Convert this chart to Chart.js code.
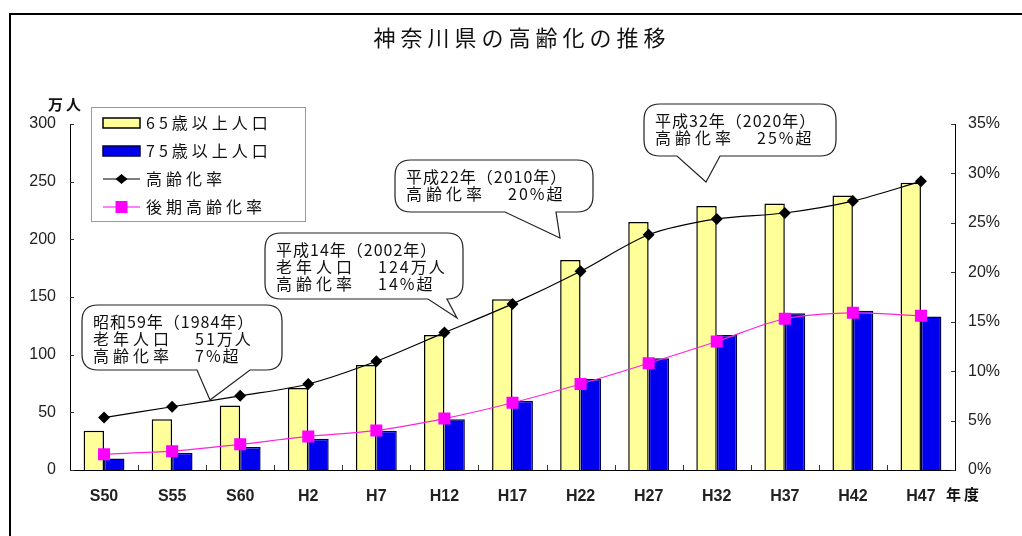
<!DOCTYPE html>
<html lang="ja">
<head>
<meta charset="utf-8">
<title>神奈川県の高齢化の推移</title>
<script src="https://cdn.jsdelivr.net/npm/chart.js@4/dist/chart.umd.min.js"></script>
<style>
  html, body { margin: 0; padding: 0; background: #fff; }
  canvas { display: block; }
</style>
</head>
<body>
<canvas id="grafico" width="1022" height="536"></canvas>
<script>
// Datos
const categorias = ['S50', 'S55', 'S60', 'H2', 'H7', 'H12', 'H17', 'H22', 'H27', 'H32', 'H37', 'H42', 'H47'];
const poblacion65 = [34, 44, 56, 71, 91, 117, 148, 182, 215, 229, 231, 238, 249];   // 万人
const poblacion75 = [10, 15, 20, 27, 34, 44, 60, 79, 97, 117, 136, 138, 133];       // 万人
const tasaEnvejecimiento = [5.3, 6.4, 7.5, 8.7, 11.0, 13.9, 16.8, 20.1, 23.8, 25.4, 26.0, 27.2, 29.2]; // %
const tasaTardia = [1.6, 1.9, 2.6, 3.4, 4.0, 5.2, 6.8, 8.7, 10.8, 13.0, 15.3, 15.9, 15.6];            // %
const ticksIzq = [0, 50, 100, 150, 200, 250, 300];
const ticksDer = [0, 5, 10, 15, 20, 25, 30, 35];

const FUENTE_JP = '"Noto Sans CJK JP", "Noto Sans", sans-serif';
const FUENTE_NUM = '"Liberation Sans", Arial, sans-serif';

// Globos de texto (anotaciones)
const globos = [
  { x: 82, y: 305, w: 200, h: 65, base: [197, 250], tip: [210, 400],
    lineas: [['昭和59年（1984年）', ''], ['老年人口', '51万人'], ['高齢化率', '7%超']] },
  { x: 265, y: 233, w: 198, h: 66, base: [428, 447], tip: [457, 318],
    lineas: [['平成14年（2002年）', ''], ['老年人口', '124万人'], ['高齢化率', '14%超']] },
  { x: 395, y: 160, w: 198, h: 52, base: [505, 556], tip: [560, 238],
    lineas: [['平成22年（2010年）', ''], ['高齢化率', '20%超']] },
  { x: 644, y: 104, w: 192, h: 52, base: [677, 720], tip: [706, 182],
    lineas: [['平成32年（2020年）', ''], ['高齢化率', '25%超']] }
];

function dibujarGlobo(ctx, g) {
  const r = 16, L = g.x, T = g.y, R = g.x + g.w, B = g.y + g.h;
  ctx.save();
  ctx.beginPath();
  ctx.moveTo(L + r, T);
  ctx.lineTo(R - r, T);
  ctx.quadraticCurveTo(R, T, R, T + r);
  ctx.lineTo(R, B - r);
  ctx.quadraticCurveTo(R, B, R - r, B);
  ctx.lineTo(g.base[1], B);
  ctx.lineTo(g.tip[0], g.tip[1]);
  ctx.lineTo(g.base[0], B);
  ctx.lineTo(L + r, B);
  ctx.quadraticCurveTo(L, B, L, B - r);
  ctx.lineTo(L, T + r);
  ctx.quadraticCurveTo(L, T, L + r, T);
  ctx.closePath();
  ctx.fillStyle = '#fff';
  ctx.fill();
  ctx.strokeStyle = '#222';
  ctx.lineWidth = 1.2;
  ctx.stroke();

  ctx.fillStyle = '#111';
  ctx.font = '16px ' + FUENTE_JP;
  ctx.textBaseline = 'middle';
  g.lineas.forEach((ln, i) => {
    const y = T + 17 + i * 17;
    if (ln[1]) {
      ctx.letterSpacing = '4px';
      ctx.fillText(ln[0], L + 11, y);
      ctx.letterSpacing = '2px';
      ctx.fillText(ln[1], L + 113, y);
    } else {
      ctx.letterSpacing = '1px';
      ctx.fillText(ln[0], L + 11, y);
    }
  });
  ctx.restore();
}

function dibujarLeyenda(ctx) {
  ctx.save();
  ctx.fillStyle = '#fff';
  ctx.fillRect(91, 107, 214, 114);
  ctx.strokeStyle = '#999';
  ctx.lineWidth = 1;
  ctx.strokeRect(91.5, 107.5, 214, 114);

  const items = [
    { tipo: 'barra', color: '#FFFF99', borde: '#000', texto: '65歳以上人口' },
    { tipo: 'barra', color: '#0000EE', borde: '#000044', texto: '75歳以上人口' },
    { tipo: 'linea', color: '#000', punto: 'rombo', texto: '高齢化率' },
    { tipo: 'linea', color: '#FF00FF', punto: 'cuadro', texto: '後期高齢化率' }
  ];
  const filas = [123, 151, 179, 207];
  items.forEach((it, i) => {
    const y = filas[i];
    if (it.tipo === 'barra') {
      ctx.fillStyle = it.color;
      ctx.fillRect(103, y - 5, 37, 10);
      ctx.strokeStyle = it.borde;
      ctx.lineWidth = 1.5;
      ctx.strokeRect(103, y - 5, 37, 10);
    } else {
      ctx.strokeStyle = it.color;
      ctx.lineWidth = 1.2;
      ctx.beginPath();
      ctx.moveTo(103, y);
      ctx.lineTo(140, y);
      ctx.stroke();
      ctx.fillStyle = it.color;
      ctx.beginPath();
      if (it.punto === 'rombo') {
        ctx.moveTo(121.5 - 6, y); ctx.lineTo(121.5, y - 5);
        ctx.lineTo(121.5 + 6, y); ctx.lineTo(121.5, y + 5);
      } else {
        ctx.rect(115.5, y - 6, 12, 12);
      }
      ctx.closePath();
      ctx.fill();
    }
    ctx.fillStyle = '#111';
    ctx.font = '16px ' + FUENTE_JP;
    ctx.textBaseline = 'middle';
    ctx.letterSpacing = '4px';
    ctx.fillText(it.texto, 146, y);
  });
  ctx.restore();
}

// Plugin con todo lo que Chart.js no dibuja solo
const decoracion = {
  id: 'decoracion',
  afterDraw(chart) {
    const ctx = chart.ctx;
    const area = chart.chartArea;
    const sx = chart.scales.x, sy = chart.scales.y, sy1 = chart.scales.y1;

    ctx.save();
    // marco exterior
    ctx.strokeStyle = '#000';
    ctx.lineWidth = 2;
    ctx.strokeRect(10, 14, 1040, 560);

    // título
    ctx.fillStyle = '#111';
    ctx.font = '22px ' + FUENTE_JP;
    ctx.textAlign = 'center';
    ctx.textBaseline = 'middle';
    ctx.letterSpacing = '5px';
    ctx.fillText('神奈川県の高齢化の推移', 522, 38);

    // unidades
    ctx.font = 'bold 15px ' + FUENTE_JP;
    ctx.letterSpacing = '3px';
    ctx.fillText('万人', 66, 104);
    ctx.textAlign = 'left';
    ctx.fillText('年度', 946, 494);

    // marcas de los ejes hacia dentro
    ctx.strokeStyle = '#333';
    ctx.lineWidth = 1;
    ctx.letterSpacing = '0px';
    ctx.beginPath();
    ticksIzq.forEach(v => {
      const y = Math.round(sy.getPixelForValue(v)) + 0.5;
      ctx.moveTo(area.left, y); ctx.lineTo(area.left + 4, y);
    });
    ticksDer.forEach(v => {
      const y = Math.round(sy1.getPixelForValue(v)) + 0.5;
      ctx.moveTo(area.right, y); ctx.lineTo(area.right - 4, y);
    });
    const paso = sx.getPixelForValue(1) - sx.getPixelForValue(0);
    for (let i = 1; i < categorias.length; i++) {
      const x = Math.round(sx.getPixelForValue(i) - paso / 2) + 0.5;
      ctx.moveTo(x, area.bottom); ctx.lineTo(x, area.bottom - 5);
    }
    ctx.stroke();
    ctx.restore();

    dibujarLeyenda(ctx);
    globos.forEach(g => dibujarGlobo(ctx, g));
  }
};

const ctx = document.getElementById('grafico').getContext('2d');
new Chart(ctx, {
  data: {
    labels: categorias,
    datasets: [
      {
        type: 'line', label: '高齢化率', data: tasaEnvejecimiento, yAxisID: 'y1', order: 0,
        borderColor: '#000', borderWidth: 1.2, tension: 0.3,
        pointStyle: 'rectRot', pointRadius: 6, pointBackgroundColor: '#000', pointBorderColor: '#000', pointBorderWidth: 0
      },
      {
        type: 'line', label: '後期高齢化率', data: tasaTardia, yAxisID: 'y1', order: 0,
        borderColor: '#FF22DD', borderWidth: 1.2, tension: 0.3,
        pointStyle: 'rect', pointRadius: 8.5, pointBackgroundColor: '#FF00FF', pointBorderColor: '#FF00FF', pointBorderWidth: 0
      },
      {
        type: 'bar', label: '65歳以上人口', data: poblacion65, yAxisID: 'y', order: 1,
        backgroundColor: '#FFFF99', borderColor: '#000', borderWidth: 1.5,
        categoryPercentage: 0.6, barPercentage: 1.0
      },
      {
        type: 'bar', label: '75歳以上人口', data: poblacion75, yAxisID: 'y', order: 1,
        backgroundColor: '#0000EE', borderColor: '#000044', borderWidth: 1.5,
        categoryPercentage: 0.6, barPercentage: 1.0
      }
    ]
  },
  options: {
    responsive: false,
    animation: false,
    layout: { padding: { top: 124, left: 0, right: 0, bottom: 0 } },
    plugins: {
      legend: { display: false },
      tooltip: { enabled: false }
    },
    scales: {
      x: {
        grid: { display: false },
        border: { color: '#000', width: 1 },
        ticks: { color: '#222', padding: 9, font: { family: FUENTE_NUM, size: 16, weight: 'bold' } },
        afterFit: s => { s.height = 66; }
      },
      y: {
        position: 'left', min: 0, max: 300,
        grid: { display: false, drawTicks: false },
        border: { color: '#000', width: 1 },
        ticks: { stepSize: 50, color: '#222', padding: 14, font: { family: FUENTE_NUM, size: 16 } },
        afterFit: s => { s.width = 70; }
      },
      y1: {
        position: 'right', min: 0, max: 35,
        grid: { display: false, drawTicks: false },
        border: { color: '#000', width: 1 },
        ticks: { stepSize: 5, color: '#222', padding: 13, font: { family: FUENTE_NUM, size: 16 },
                 callback: v => v + '%' },
        afterFit: s => { s.width = 67; }
      }
    }
  },
  plugins: [decoracion]
});
</script>
</body>
</html>
